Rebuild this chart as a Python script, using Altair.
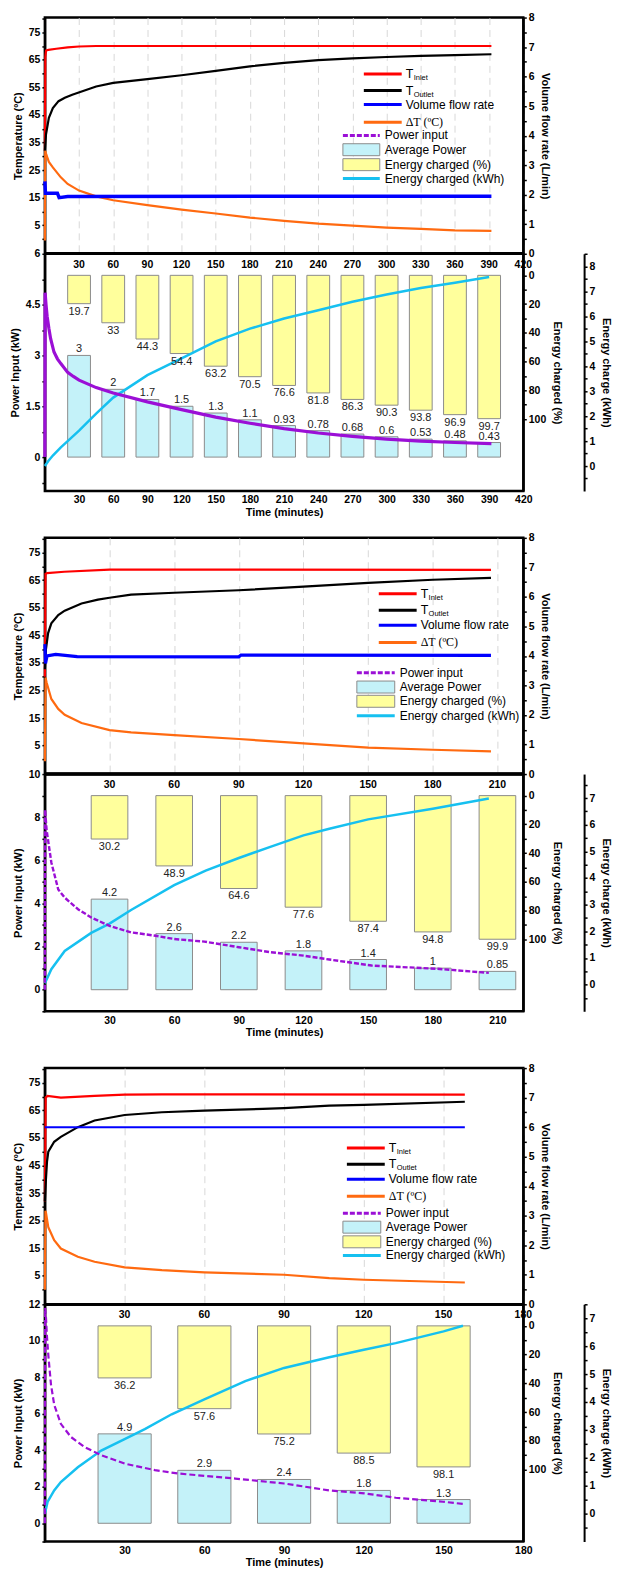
import altair as alt
import pandas as pd

FONT = "Liberation Sans"
SERIF = "Liberation Serif"

C_IN, C_OUT, C_FLOW, C_DT = "#ff0000", "#000000", "#0000ff", "#ff6a10"
C_PWR, C_KWH = "#9b0fd6", "#16c0f0"
C_YEL, C_CYAN, C_EDGE = "#ffff9c", "#c4f2f9", "#8c8c8c"

W, HT, HB = 480, 237, 238
H = HT + HB
TEMP_DOM = [-5.3, 80.3]
FLOW_DOM = [0, 8]
PCT_DOM = [-15, 150]

# ---------------- Section 1 : ~2 L/min ----------------
S1_TIN = [(0, 32), (0.4, 66), (1, 68.3), (3, 68.6), (10, 69.0), (20, 69.5), (30, 69.8), (45, 70.0), (392, 70.0)]
S1_TOUT = [(0, 32), (1, 38), (3.5, 44), (7, 47.5), (12, 50), (17.5, 51.2), (24, 52.3), (31, 53.3), (45, 55.3),
           (60, 56.6), (90, 58.0), (120, 59.4), (150, 61.0), (180, 62.6), (210, 63.9), (240, 64.9), (270, 65.5),
           (300, 66.0), (330, 66.4), (360, 66.7), (392, 67.0)]
S1_DT = [(0, -0.5), (0.3, 32), (1, 31), (3.5, 28), (7, 26), (14, 22.4), (20, 20), (30, 17.6), (45, 15.5),
         (60, 14.1), (90, 12.3), (120, 10.7), (150, 9.3), (180, 7.8), (210, 6.6), (240, 5.6), (270, 4.9),
         (300, 4.2), (330, 3.7), (360, 3.2), (392, 3.0)]
S1_FLOW = [(0, 2.45), (0.5, 2.05), (11, 2.05), (12.5, 1.9), (20, 1.94), (392, 1.95)]
S1_PWR = [(0, 0), (0.2, 4.85), (1, 4.5), (2, 4.15), (3.5, 3.8), (5, 3.5), (8, 3.1), (11, 2.9), (14, 2.76),
          (20, 2.5), (25, 2.38), (30, 2.27), (45, 2.05), (60, 1.89), (90, 1.63), (120, 1.40), (150, 1.18),
          (180, 1.0), (210, 0.84), (240, 0.71), (270, 0.61), (300, 0.53), (330, 0.47), (360, 0.43), (392, 0.40)]
S1_KWH = [(0, 0), (3, 0.2), (7, 0.42), (14, 0.75), (20, 1.0), (30, 1.42), (45, 2.1), (60, 2.74), (90, 3.64),
          (120, 4.31), (150, 4.99), (180, 5.5), (210, 5.91), (240, 6.24), (270, 6.58), (300, 6.87),
          (330, 7.13), (360, 7.34), (390, 7.57)]
S1_BAR_T = [30, 60, 90, 120, 150, 180, 210, 240, 270, 300, 330, 360, 390]
S1_PCT = [19.7, 33, 44.3, 54.4, 63.2, 70.5, 76.6, 81.8, 86.3, 90.3, 93.8, 96.9, 99.7]
S1_AVG = [3, 2, 1.7, 1.5, 1.3, 1.1, 0.93, 0.78, 0.68, 0.6, 0.53, 0.48, 0.43]
S1_XTICKS = [30, 60, 90, 120, 150, 180, 210, 240, 270, 300, 330, 360, 390, 420]

# ---------------- Section 2 : ~4 L/min ----------------
S2_TIN = [(0, 30), (0.3, 67.2), (1, 67.5), (9, 68.0), (30, 68.8), (60, 68.8), (207, 68.7)]
S2_TOUT = [(0, 32.7), (0.5, 40), (1.5, 45.8), (3, 49.3), (6.2, 52.3), (9.2, 53.9), (17, 56.5), (24.6, 57.9),
           (30, 58.6), (40, 59.7), (60, 60.4), (90, 61.3), (120, 62.6), (150, 64.0), (180, 65.1), (207, 65.8)]
S2_DT = [(0, -0.7), (0.3, 29.7), (0.8, 27.9), (3, 21.9), (6.2, 18.3), (9.2, 16.2), (17, 13.2), (30, 10.6),
         (40, 9.8), (60, 8.8), (90, 7.4), (120, 5.8), (150, 4.3), (180, 3.5), (207, 2.9)]
S2_FLOW = [(0, 4.4), (0.3, 3.75), (1, 4.0), (5, 4.05), (15, 3.98), (90, 3.97), (91, 4.03), (207, 4.02)]
S2_PWR = [(0, 0), (0.1, 8.34), (0.8, 7.4), (3, 5.9), (6.2, 4.65), (9.2, 4.27), (15.4, 3.73), (21.5, 3.35),
          (30, 2.96), (40, 2.66), (51.5, 2.5), (60, 2.35), (74, 2.23), (90, 1.97), (104.6, 1.74), (120, 1.58),
          (132, 1.40), (151.6, 1.12), (182, 0.97), (206, 0.78)]
S2_KWH = [(0, 0.05), (3, 0.58), (9.2, 1.26), (21.5, 1.94), (30, 2.29), (40, 2.8), (60, 3.73), (74.6, 4.28),
          (90, 4.75), (104.6, 5.17), (120, 5.6), (132, 5.85), (150, 6.2), (180, 6.6), (206, 6.98)]
S2_BAR_T = [30, 60, 90, 120, 150, 180, 210]
S2_PCT = [30.2, 48.9, 64.6, 77.6, 87.4, 94.8, 99.9]
S2_AVG = [4.2, 2.6, 2.2, 1.8, 1.4, 1, 0.85]
S2_XTICKS = [30, 60, 90, 120, 150, 180, 210]

# ---------------- Section 3 : ~6 L/min ----------------
S3_TIN = [(0, 32), (0.3, 69.6), (1, 70.2), (6, 69.6), (18.7, 70.2), (30, 70.7), (44, 70.8), (158, 70.7)]
S3_TOUT = [(0, 32), (0.4, 40), (0.8, 46.4), (1.3, 50), (3.5, 53.6), (6, 55.4), (12.4, 58.9), (18.7, 61.3),
           (30, 63.3), (44, 64.3), (60, 64.9), (82, 65.5), (90, 65.8), (107, 66.7), (120, 67.0), (158, 68.1)]
S3_DT = [(0, 0), (0.2, 28.6), (0.4, 28), (1.3, 22.6), (3.5, 17.9), (6, 14.9), (12.4, 11.9), (18.7, 10.1),
         (30, 8.1), (44, 7.1), (60, 6.3), (90, 5.4), (107, 4.2), (120, 3.6), (158, 2.6)]
S3_FLOW = [(0, 6.0), (158, 6.0)]
S3_PWR = [(0, 0), (0.1, 11.8), (0.4, 11.3), (0.8, 10.2), (1.3, 9.2), (2.3, 7.6), (3.5, 6.5), (6, 5.45),
          (9.8, 4.73), (14.9, 4.18), (21.2, 3.73), (30, 3.27), (41.4, 2.91), (50, 2.73), (60, 2.6), (71.6, 2.45),
          (90, 2.18), (107, 1.8), (120.2, 1.64), (132, 1.40), (149.8, 1.18), (157.3, 1.06)]
S3_KWH = [(0, 0), (1, 0.42), (3.5, 0.83), (6, 1.13), (12.4, 1.66), (21.2, 2.26), (30, 2.67), (37.6, 3.03),
          (47.7, 3.56), (60, 4.09), (75.4, 4.75), (90, 5.22), (107, 5.6), (120, 5.87), (132, 6.11),
          (150, 6.53), (157.3, 6.73)]
S3_BAR_T = [30, 60, 90, 120, 150]
S3_PCT = [36.2, 57.6, 75.2, 88.5, 98.1]
S3_AVG = [4.9, 2.9, 2.4, 1.8, 1.3]
S3_XTICKS = [30, 60, 90, 120, 150, 180]

LEG_TOP = ["Volume flow rate", "ΔT (ºC)"]
LEG_BOT = ["Power input", "Average Power", "Energy charged (%)", "Energy charged (kWh)"]


def df(pts):
    return pd.DataFrame({"t": [p[0] for p in pts], "v": [p[1] for p in pts], "i": list(range(len(pts)))})


def steps(a, b, s):
    out, v = [], a
    while v <= b + 1e-9:
        out.append(round(v, 4))
        v += s
    return out


def section(d):
    xs = alt.Scale(domain=[0, d["xmax"]], nice=False, zero=False)
    xaxis = alt.Axis(values=d["xticks"], title="Time (minutes)", grid=True, gridDash=[7, 5],
                     gridColor="#d8d8d8", gridWidth=1, domain=False, ticks=False, labelPadding=4,
                     labelFlush=False, labelOverlap=False, titlePadding=1, format="d")

    def X(f="t:Q"):
        return alt.X(f, scale=xs, axis=xaxis)

    temp_sc = alt.Scale(domain=TEMP_DOM, range=[HT, 0], nice=False, zero=False)
    flow_sc = alt.Scale(domain=FLOW_DOM, range=[HT, 0], nice=False, zero=False)
    pwr_sc = alt.Scale(domain=d["pdom"], range=[H, HT], nice=False, zero=False)
    pct_sc = alt.Scale(domain=PCT_DOM, range=[HT, H], nice=False, zero=False)
    kwh_sc = alt.Scale(domain=d["kdom"], range=[H, HT], nice=False, zero=False)

    temp_axis = alt.Axis(orient="left", values=steps(0, 80, 5), labelOverlap=False,
                         labelExpr="(datum.value-5)%10==0 ? format(datum.value,'d') : ''",
                         title="Temperature (ºC)", labelPadding=2, titlePadding=5)
    flow_axis = alt.Axis(orient="right", values=steps(0, 8, 0.5), labelOverlap=False,
                         labelExpr="datum.value%1==0 ? format(datum.value,'d') : ''",
                         title="Volume flow rate (L/min)", titleAngle=90, labelPadding=2, titlePadding=5)
    ps = d["pstep"]
    pwr_axis = alt.Axis(orient="left", values=steps(d["pdom"][0] if d["pminor"] == 1 else -ps / 2, d["pdom"][1], ps / 2),
                        labelOverlap=False,
                        labelExpr=f"datum.value>=0 && abs(datum.value/{ps}-round(datum.value/{ps}))<0.001 ? format(datum.value,'~g') : ''",
                        title="Power Input (kW)", labelPadding=2, titlePadding=5)
    pct_axis = alt.Axis(orient="right", values=steps(0, 100, 10), labelOverlap=False,
                        labelExpr="datum.value%20==0 ? format(datum.value,'d') : ''",
                        title="Energy charged (%)", titleAngle=90, labelPadding=2, titlePadding=6)
    kwh_axis = alt.Axis(orient="right", offset=61, values=steps(-0.5, d["kdom"][1], 0.5), labelOverlap=False,
                        labelExpr="datum.value>=0 && datum.value%1==0 ? format(datum.value,'d') : ''",
                        title="Energy charge (kWh)", titleAngle=90, labelPadding=2, titlePadding=6)

    bars = pd.DataFrame({"t": d["bar_t"], "pct": d["pct"], "avg": d["avg"]})
    hw = d["hw"]

    layers = []
    layers.append(
        alt.Chart(bars).transform_calculate(x0=f"datum.t-{hw}", x1=f"datum.t+{hw}")
        .mark_rect(fill=C_CYAN, stroke=C_EDGE, strokeWidth=1)
        .encode(x=X("x0:Q"), x2="x1:Q", y=alt.Y("avg:Q", scale=pwr_sc, axis=None), y2=alt.datum(0))
    )
    layers.append(
        alt.Chart(bars).transform_calculate(x0=f"datum.t-{hw}", x1=f"datum.t+{hw}")
        .mark_rect(fill=C_YEL, stroke=C_EDGE, strokeWidth=1)
        .encode(x=X("x0:Q"), x2="x1:Q", y=alt.Y("pct:Q", scale=pct_sc, axis=pct_axis), y2=alt.datum(0))
    )
    for pts, col, ax in [(d["tin"], C_IN, temp_axis), (d["tout"], C_OUT, None), (d["dt"], C_DT, None)]:
        layers.append(alt.Chart(df(pts)).mark_line(color=col, strokeWidth=2.2)
                      .encode(x=X(), y=alt.Y("v:Q", scale=temp_sc, axis=ax), order="i:Q"))
    layers.append(alt.Chart(df(d["flow"])).mark_line(color=C_FLOW, strokeWidth=d["flow_w"])
                  .encode(x=X(), y=alt.Y("v:Q", scale=flow_sc, axis=flow_axis), order="i:Q"))
    layers.append(alt.Chart(df(d["kwh"])).mark_line(color=C_KWH, strokeWidth=2.5)
                  .encode(x=X(), y=alt.Y("v:Q", scale=kwh_sc, axis=kwh_axis), order="i:Q"))
    pl = dict(color=C_PWR, strokeWidth=d["pw"])
    if d["dash"]:
        pl["strokeDash"] = d["dash"]
    layers.append(alt.Chart(df(d["pwr"])).mark_line(**pl)
                  .encode(x=X(), y=alt.Y("v:Q", scale=pwr_sc, axis=pwr_axis), order="i:Q"))
    layers.append(alt.Chart(bars).mark_text(font=FONT, fontSize=11, color="#222", baseline="top", dy=2)
                  .encode(x=X(), y=alt.Y("pct:Q", scale=pct_sc, axis=None), text=alt.Text("pct:Q", format="~g")))
    layers.append(alt.Chart(bars).mark_text(font=FONT, fontSize=11, color="#222", baseline="bottom", dy=-1)
                  .encode(x=X(), y=alt.Y("avg:Q", scale=pwr_sc, axis=None), text=alt.Text("avg:Q", format="~g")))
    layers.append(alt.Chart(pd.DataFrame({"t": d["xticks"]})).mark_rule(color="black", strokeWidth=2.5)
                  .encode(x=alt.value(0), x2=alt.value(W), y=alt.value(HT)))
    layers.append(alt.Chart(pd.DataFrame({"t": d["xticks"]}))
                  .mark_text(font=FONT, fontSize=10.5, fontWeight="bold", color="black", baseline="middle")
                  .encode(x=X(), y=alt.value(HT + 11), text=alt.Text("t:Q", format="d")))

    g1x0, g1x1, g1tx = d["g1"]
    g2x0, g2x1, g2tx = d["g2"]
    r1, r2 = d["r1"], d["r2"]
    one = pd.DataFrame({"a": [0]})

    def rule(x0, x1, y, col, dash=None):
        kw = dict(color=col, strokeWidth=3)
        if dash:
            kw["strokeDash"] = dash
        return alt.Chart(one).mark_rule(**kw).encode(x=alt.value(x0), x2=alt.value(x1), y=alt.value(y))

    def txt(x, y, s, size=12, font=FONT):
        return alt.Chart(one).mark_text(font=font, fontSize=size, color="black", align="left",
                                        baseline="middle").encode(x=alt.value(x), y=alt.value(y), text=alt.value(s))

    def box(x0, x1, y, col):
        return alt.Chart(one).mark_rect(fill=col, stroke=C_EDGE, strokeWidth=1).encode(
            x=alt.value(x0), x2=alt.value(x1), y=alt.value(y - 6), y2=alt.value(y + 6))

    layers += [rule(g1x0, g1x1, r1[0], C_IN), txt(g1tx, r1[0], "T", 12.5), txt(g1tx + 8, r1[0] + 4, "Inlet", 7.5),
               rule(g1x0, g1x1, r1[1], C_OUT), txt(g1tx, r1[1], "T", 12.5), txt(g1tx + 8, r1[1] + 4, "Outlet", 7.5),
               rule(g1x0, g1x1, r1[2], C_FLOW), txt(g1tx, r1[2], LEG_TOP[0]),
               rule(g1x0, g1x1, r1[3], C_DT), txt(g1tx, r1[3], LEG_TOP[1], 12, SERIF),
               rule(g2x0, g2x1, r2[0], C_PWR, [5, 2]), txt(g2tx, r2[0], LEG_BOT[0]),
               box(g2x0, g2x1, r2[1], C_CYAN), txt(g2tx, r2[1], LEG_BOT[1]),
               box(g2x0, g2x1, r2[2], C_YEL), txt(g2tx, r2[2], LEG_BOT[2]),
               rule(g2x0, g2x1, r2[3], C_KWH), txt(g2tx, r2[3], LEG_BOT[3])]

    return alt.layer(*layers).resolve_scale(y="independent").resolve_axis(y="independent").properties(
        width=W, height=H)


sec1 = section(dict(xmax=420, xticks=S1_XTICKS, hw=10, tin=S1_TIN, tout=S1_TOUT, dt=S1_DT, flow=S1_FLOW,
                    flow_w=3.5, pwr=S1_PWR, kwh=S1_KWH, bar_t=S1_BAR_T, pct=S1_PCT, avg=S1_AVG,
                    pdom=[-1, 6], pstep=1.5, pminor=0, kdom=[-1, 8.5], dash=None, pw=3.2,
                    g1=(320, 358, 362), g2=(299, 336, 341),
                    r1=[56.6, 73.3, 87.3, 105], r2=[118.3, 132.6, 147.6, 161.6]))
sec2 = section(dict(xmax=222, xticks=S2_XTICKS, hw=8.5, tin=S2_TIN, tout=S2_TOUT, dt=S2_DT, flow=S2_FLOW,
                    flow_w=3.2, pwr=S2_PWR, kwh=S2_KWH, bar_t=S2_BAR_T, pct=S2_PCT, avg=S2_AVG,
                    pdom=[-1, 10], pstep=2, pminor=1, kdom=[-1, 7.9], dash=[5, 2], pw=2.4,
                    g1=(335, 373, 377), g2=(313, 351, 356),
                    r1=[56, 72.7, 87.7, 105], r2=[135.4, 149.7, 164, 178.4]))
sec3 = section(dict(xmax=180, xticks=S3_XTICKS, hw=10, tin=S3_TIN, tout=S3_TOUT, dt=S3_DT, flow=S3_FLOW,
                    flow_w=2, pwr=S3_PWR, kwh=S3_KWH, bar_t=S3_BAR_T, pct=S3_PCT, avg=S3_AVG,
                    pdom=[-1, 12], pstep=2, pminor=1, kdom=[-1, 7.5], dash=[6, 3], pw=2.2,
                    g1=(303, 341, 345), g2=(299, 337, 342),
                    r1=[80.3, 96.6, 111.6, 128.6], r2=[145.6, 159.6, 174.3, 188]))

chart = alt.vconcat(alt.vconcat(sec1, sec2, spacing=12), sec3, spacing=22).properties(
    padding={"left": 0, "top": 0, "right": 0, "bottom": 0}
).configure_view(stroke="black", strokeWidth=2.5).configure_axis(
    labelFont=FONT, titleFont=FONT, labelFontSize=10.5, titleFontSize=11, labelFontWeight="bold",
    titleFontWeight="bold", labelColor="black", titleColor="black", domainColor="black", domainWidth=2,
    tickColor="black", tickWidth=1.5, tickSize=3)

chart.save("out.html", embed_options={"renderer": "svg", "actions": False})
